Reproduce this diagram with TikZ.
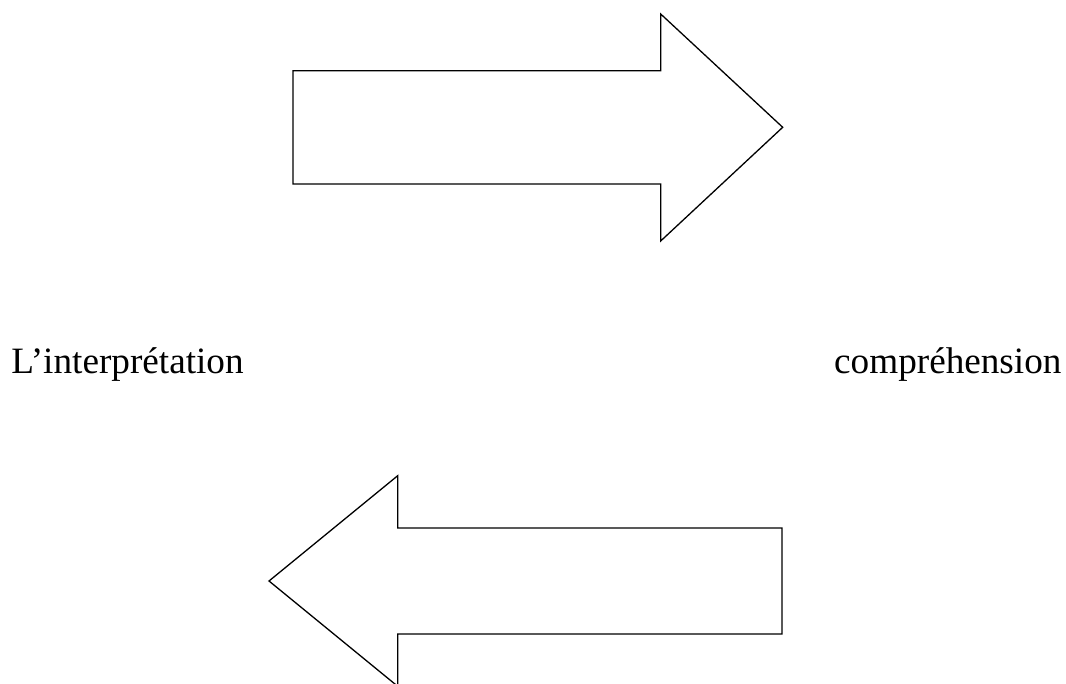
\documentclass[tikz,border=0pt]{standalone}
\usepackage{fontspec}
\setmainfont{Liberation Serif}
\begin{document}
\begin{tikzpicture}[x=1pt,y=-1pt,
  blockarrow/.style={draw=black,line width=1.3pt,line join=miter,fill=white},
  label/.style={inner sep=0pt,anchor=base west,font=\fontsize{37.2}{45}\selectfont}]
\useasboundingbox (0,0) rectangle (1066,684);
\draw[blockarrow] (293,70.7) -- (660.7,70.7) -- (660.7,14) -- (782.7,127.3) -- (660.7,241) -- (660.7,184) -- (293,184) -- cycle;
\draw[blockarrow] (782,528) -- (397.7,528) -- (397.7,475.7) -- (269,581) -- (397.7,686.3) -- (397.7,634) -- (782,634) -- cycle;
\node[label] (interp) at (11.3,374) {L’interprétation};
\node[label] (compr) at (834,374) {compréhension};
\end{tikzpicture}
\end{document}
